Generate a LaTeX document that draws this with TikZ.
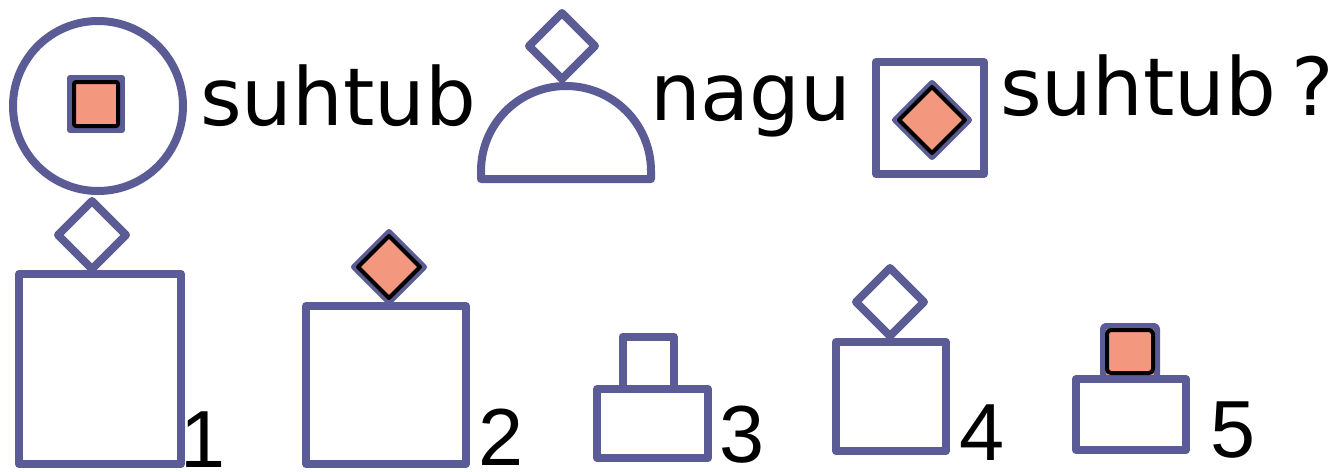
\documentclass[tikz,border=0pt]{standalone}
\usepackage{fontspec}
\setmainfont{DejaVu Sans}
\newfontfamily\digitfont{Liberation Sans}
\definecolor{ink}{HTML}{5B5B96}
\definecolor{salmon}{HTML}{F4977F}
\tikzset{
  outline/.style={draw=ink, line width=8pt, line join=round, fill=white},
  filledrim/.style={draw=ink, line width=6pt, line join=round, fill=salmon},
  filledcore/.style={draw=black, line width=4pt, line join=round},
  word/.style={inner sep=0pt, anchor=base west, font=\fontsize{80}{80}\selectfont},
  numlabel/.style={inner sep=0pt, anchor=base, font=\digitfont\fontsize{81}{81}\selectfont}
}
\begin{document}
\begin{tikzpicture}[x=1pt, y=-1pt]
\useasboundingbox[fill=white] (0,0) rectangle (1332,471);

% --- top row: circle with square ---
\draw[outline, fill=none] (98,106) circle[radius=85];
\draw[filledrim] (70,78) rectangle (122,130);
\draw[filledcore, rounded corners=2pt] (74,82) rectangle (118,126);
\node[word] (w1) at (200,125) {suhtub};

% --- dome with diamond on top ---
\draw[outline] (481,179) -- (481,171) arc[start angle=180, end angle=360, radius=85] -- (651,179) -- cycle;
\draw[outline] (562,13) -- (595,46) -- (562,79) -- (529,46) -- cycle;
\node[word] (w2) at (650,120) {nagu};

% --- framed diamond ---
\draw[outline] (876,62) rectangle (984,174);
\draw[filledrim] (932,83) -- (969,120) -- (932,157) -- (895,120) -- cycle;
\draw[filledcore] (932,87) -- (965,120) -- (932,153) -- (899,120) -- cycle;
\node[word] (w3) at (1000,115) {suhtub};
\node[word] (q) at (1291,115) {?};

% --- answer 1 ---
\draw[outline] (92,201) -- (126,235) -- (92,269) -- (58,235) -- cycle;
\draw[outline] (19,274) rectangle (181,464);
\node[numlabel] (n1) at (203,467) {1};

% --- answer 2 ---
\draw[outline] (306,306) rectangle (466,464);
\draw[filledrim] (389,232) -- (424,267) -- (389,302) -- (354,267) -- cycle;
\draw[filledcore] (389,236) -- (420,267) -- (389,298) -- (358,267) -- cycle;
\node[numlabel] (n2) at (501,465) {2};

% --- answer 3 ---
\draw[outline] (622.5,336.5) rectangle (673.5,389);
\draw[outline] (597,389) rectangle (708,458);
\node[numlabel] (n3) at (742,462) {3};

% --- answer 4 ---
\draw[outline] (890,268) -- (924,302) -- (890,336) -- (856,302) -- cycle;
\draw[outline] (836,342) rectangle (946,451);
\node[numlabel] (n4) at (982,460) {4};

% --- answer 5 ---
\draw[outline] (1076,379) rectangle (1186,450);
\draw[filledrim, rounded corners=3pt] (1103,326) rectangle (1157,378);
\draw[filledcore, rounded corners=4pt] (1107,330) rectangle (1153,373);
\node[numlabel] (n5) at (1233,457) {5};
\end{tikzpicture}
\end{document}
